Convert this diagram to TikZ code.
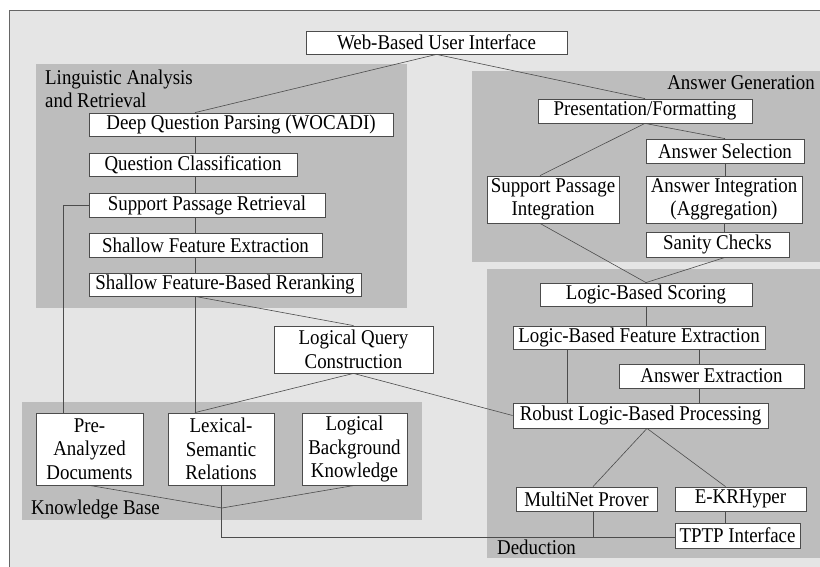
\documentclass[tikz,border=0pt]{standalone}
\usepackage{fontspec}
\setmainfont{Liberation Serif}[FakeStretch=0.9]
\usetikzlibrary{positioning}
\definecolor{bggray}{gray}{0.9}
\definecolor{areagray}{gray}{0.74}
\definecolor{linegray}{gray}{0.3}

\begin{document}
\begin{tikzpicture}[x=1pt, y=-1pt,
        box/.style={draw=linegray, line width=0.8pt, fill=white, inner sep=0pt, align=center, font=\fontsize{21}{23.5}\selectfont},
        area/.style={fill=areagray},
        title/.style={inner sep=0pt, align=left, font=\fontsize{21}{23}\selectfont},
        link/.style={draw=linegray, line width=0.6pt}]
        \useasboundingbox (0,0) rectangle (820,567);
        \draw[fill=bggray, draw=gray!80!black, line width=0.8pt] (9.5,10) rectangle (840,590);

        % grey areas
        \fill[area] (36,64) rectangle (407,308);
        \fill[area] (472,71) rectangle (830,262);
        \fill[area] (487,269) rectangle (830,558);
        \fill[area] (22,402) rectangle (422,520);

        \node[title, anchor=west] (lar) at (45,88.5) {Linguistic Analysis\\and Retrieval};
        \node[title, anchor=east] (ag) at (815,83) {Answer Generation};
        \node[title, anchor=west] (dd) at (497,547) {Deduction};
        \node[title, anchor=west] (kb) at (31,509) {Knowledge Base};

        \coordinate (spine) at (195,0);
        \coordinate (kbjoin) at (222,508);

        \node[box, minimum width=261, minimum height=23] (web) at (436.5,42.5) {Web-Based User Interface};

        % linguistic analysis
        \node[box, minimum width=304, minimum height=23] (dqp) at (241,124.5) {Deep Question Parsing (WOCADI)};
        \node[box, minimum width=208, minimum height=23] (qc) at (193,164.5) {Question Classification};
        \node[box, minimum width=236, minimum height=24] (spr) at (207,205) {Support Passage Retrieval};
        \node[box, minimum width=233, minimum height=24] (sfe) at (205.5,245) {Shallow Feature Extraction};
        \node[box, minimum width=272, minimum height=23] (sfr) at (225,284.5) {Shallow Feature-Based Reranking};
        \node[box, minimum width=159, minimum height=47] (lqc) at (353.5,349.5) {Logical Query\\Construction};

        % answer generation
        \node[box, minimum width=214, minimum height=24] (pf) at (645,111) {Presentation/Formatting};
        \node[box, minimum width=158, minimum height=24] (as) at (725,151) {Answer Selection};
        \node[box, minimum width=132, minimum height=47] (spi) at (553,199.5) {Support Passage\\Integration};
        \node[box, minimum width=156, minimum height=47] (ai) at (724,199.5) {Answer Integration\\(Aggregation)};
        \node[box, minimum width=143, minimum height=25] (sc) at (717.5,244.5) {Sanity Checks};

        % deduction
        \node[box, minimum width=212, minimum height=23] (lbs) at (646,294.5) {Logic-Based Scoring};
        \node[box, minimum width=252, minimum height=23] (lbfe) at (639,337.5) {Logic-Based Feature Extraction};
        \node[box, minimum width=185, minimum height=24] (ae) at (711.5,376) {Answer Extraction};
        \node[box, minimum width=255, minimum height=25] (rlbp) at (640.5,415.5) {Robust Logic-Based Processing};
        \node[box, minimum width=141, minimum height=24] (mnp) at (586.5,499) {MultiNet Prover};
        \node[box, minimum width=131, minimum height=24] (ekr) at (740.5,499) {E-KRHyper};
        \node[box, minimum width=125, minimum height=25] (tptp) at (737.5,535.5) {TPTP Interface};

        % knowledge base
        \node[box, minimum width=107, minimum height=72] (pad) at (89.5,449) {Pre-\\Analyzed\\Documents};
        \node[box, minimum width=106, minimum height=72] (lsr) at (221,449) {Lexical-\\Semantic\\Relations};
        \node[box, minimum width=105, minimum height=72] (lbk) at (354.5,449) {Logical\\Background\\Knowledge};

        \path[link]
        (web.south) edge (dqp.north -| spine)
        edge (pf.north)
        (dqp.south -| spine) edge (qc.north -| spine)
        (qc.south -| spine) edge (spr.north -| spine)
        (spr.south -| spine) edge (sfe.north -| spine)
        (sfe.south -| spine) edge (sfr.north -| spine)
        (sfr.south -| spine) edge (lsr.north -| spine)
        edge (lqc.north)
        (lqc.south) edge (lsr.north -| spine)
        edge (rlbp.west)
        (pf.south) edge ([xshift=-13pt]spi.north)
        edge (as.north)
        (as.south) edge (as.south |- ai.north)
        (ai.south) edge (ai.south |- sc.north)
        ([xshift=-13pt]spi.south) edge (lbs.north)
        ([xshift=7.5pt]sc.south) edge (lbs.north)
        (lbs.south) edge (lbs.south |- lbfe.north)
        ([xshift=-72pt]lbfe.south) edge ([xshift=-72pt]lbfe.south |- rlbp.north)
        ([xshift=60pt]lbfe.south) edge ([xshift=60pt]lbfe.south |- ae.north)
        ([xshift=-12.5pt]ae.south) edge ([xshift=-12.5pt]ae.south |- rlbp.north)
        ([xshift=6.5pt]rlbp.south) edge ([xshift=6.5pt]mnp.north)
        edge ([xshift=-15pt]ekr.north)
        ([xshift=-15pt]ekr.south) edge ([xshift=-15pt]ekr.south |- tptp.north)
        (pad.south) edge (kbjoin)
        (lbk.south) edge (kbjoin);

        \draw[link] (spr.west) -| ([xshift=-26.5pt]pad.north);
        \draw[link] (lsr.south) |- ([yshift=-1.5pt]tptp.west);
        \draw[link] ([xshift=6.5pt]mnp.south) -- ([xshift=6.5pt,yshift=-1.5pt]mnp.south |- tptp.west);
    \end{tikzpicture}
\end{document}
